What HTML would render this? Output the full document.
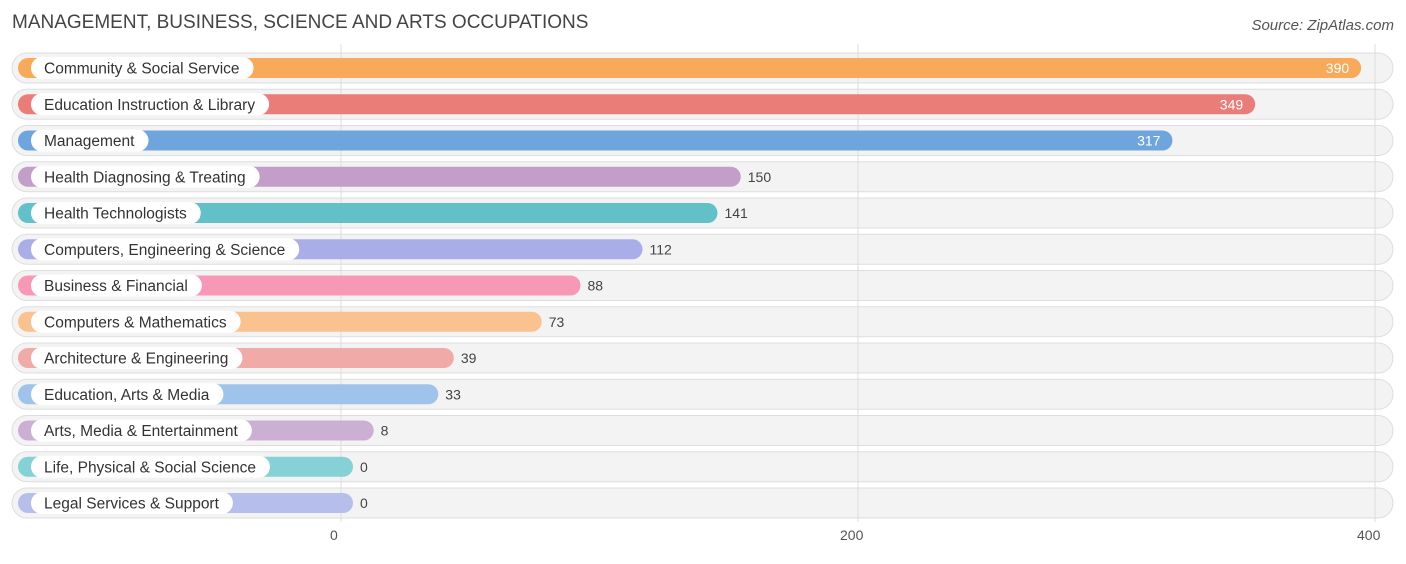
<!DOCTYPE html>
<html><head><meta charset="utf-8"><style>
body{margin:0;background:#fff;width:1406px;height:559px;overflow:hidden;font-family:"Liberation Sans",sans-serif}
</style></head><body>
<svg id="c" width="1406" height="559">
<text x="12" y="28" font-size="19" fill="#444">MANAGEMENT, BUSINESS, SCIENCE AND ARTS OCCUPATIONS</text>
<text x="1394" y="30" font-size="15" fill="#555" font-style="italic" text-anchor="end">Source: ZipAtlas.com</text>
</svg>
<script>
const categories=["Community & Social Service","Education Instruction & Library","Management","Health Diagnosing & Treating","Health Technologists","Computers, Engineering & Science","Business & Financial","Computers & Mathematics","Architecture & Engineering","Education, Arts & Media","Arts, Media & Entertainment","Life, Physical & Social Science","Legal Services & Support"];
const values=[390,349,317,150,141,112,88,73,39,33,8,0,0];
const tickValues=[0,200,400];
const colors=["#f9a95a","#eb7d78","#6fa5dd","#c39ec8","#62c0c9","#a9aee8","#f799b6","#f9c28f","#f0aaa7","#9fc3ea","#ccb0d3","#86d1d6","#b6bfeb"];
const svg=document.getElementById('c');const NS="http://www.w3.org/2000/svg";
const gx=v=>341+v*2.585, bx=v=>353+v*2.585, ry=i=>68+i*36.25;
function mk(t,a,p){const e=document.createElementNS(NS,t);for(const k in a)e.setAttribute(k,a[k]);(p||svg).appendChild(e);return e;}
// row backgrounds
categories.forEach((c,i)=>{
 const r=mk('rect',{x:12,y:ry(i)-15,width:1381,height:30,rx:15,fill:'#f3f3f3',stroke:'#dedede','stroke-width':1});
 
 
});
// gridlines
tickValues.forEach(t=>{
 const l=mk('line',{x1:gx(t),x2:gx(t),y1:44,y2:522,stroke:'#dcdcdc','stroke-width':1});
 
 
 const tx=mk('text',{x:gx(t)-(t==0?11:t==400?18:18),y:540,'font-size':14,fill:'#555'});
 tx.textContent=t;
 
 
});
categories.forEach((c,i)=>{
 const y=ry(i),v=values[i];
 const b=mk('rect',{x:18,y:y-10,width:bx(v)-18,height:20,rx:10,fill:colors[i]});
 
 
 const lt=mk('text',{x:44,y:y+5.5,'font-size':15.5,fill:'#333'});
 lt.textContent=c;
 const w=lt.getComputedTextLength();
 const lp=mk('rect',{x:31,y:y-11,width:w+27,height:22,rx:11,fill:'#fff'});
 svg.insertBefore(lp,lt);
 
 
 
 
 const inside=v>250;
 const vt=mk('text',{x:inside?bx(v)-12:bx(v)+7,y:y+5,'font-size':14,fill:inside?'#fff':'#444','text-anchor':inside?'end':'start'});
 vt.textContent=v;
 
 
});
</script>
</body></html>
